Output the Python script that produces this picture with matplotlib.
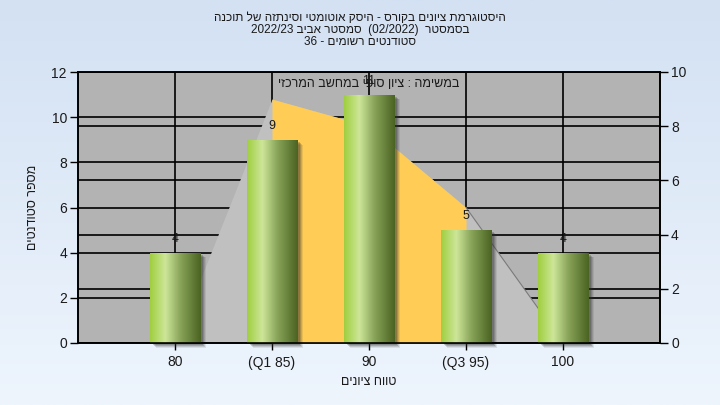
import re
import numpy as np
import matplotlib
matplotlib.use("Agg")
import matplotlib.pyplot as plt
import matplotlib.transforms as mtransforms
from matplotlib.colors import LinearSegmentedColormap

plt.rcParams['font.family'] = ['Liberation Sans', 'DejaVu Sans']

# ---- data ----
categories = ['80', '(Q1 85)', '90', '(Q3 95)', '100']
counts = [4, 9, 11, 5, 4]
curve = [0, 9, 8, 5, 0]          # right-axis distribution outline
q1_index, q3_index = 1, 3
title_lines = ['היסטוגרמת ציונים בקורס - היסק אוטומטי וסינתזה של תוכנה',
               'בסמסטר  (02/2022)  סמסטר אביב 2022/23',
               'סטודנטים רשומים - 36']
subtitle = 'במשימה : ציון סופי במחשב המרכזי'
xlabel = 'טווח ציונים'
ylabel = 'מספר סטודנטים'
left_ticks = [0, 2, 4, 6, 8, 10, 12]
right_ticks = [0, 2, 4, 6, 8, 10]


def vis(s):
    """Simple right-to-left visual ordering for matplotlib (no bidi support)."""
    r = s[::-1].translate(str.maketrans('()', ')('))
    return re.sub(r'[0-9A-Za-z][0-9A-Za-z/.]*', lambda m: m.group(0)[::-1], r)


fig = plt.figure(figsize=(7.2, 4.05), dpi=100)

# background gradient
bgax = fig.add_axes([0, 0, 1, 1], zorder=-10)
grad = np.linspace(0, 1, 256).reshape(-1, 1)
bgcmap = LinearSegmentedColormap.from_list('bg', ['#d3e1f3', '#eef5fd'])
bgax.imshow(grad, aspect='auto', cmap=bgcmap, extent=[0, 1, 0, 1])
bgax.axis('off')

ax = fig.add_axes([78/720, 1-343/405, (660-78)/720, (343-72)/405])
ax.set_facecolor('#b3b3b3')
ax2 = ax.twinx()

x = np.arange(len(categories))
ax.set_xlim(-1, len(categories))
ax.set_ylim(0, 12)
ax2.set_ylim(0, 10)

# gridlines (below polygon)
for v in left_ticks:
    ax.axhline(v, color='black', lw=1.2, zorder=1)
for v in right_ticks:
    ax.plot([-1, len(categories)], [v, v], color='black', lw=1.2, zorder=1,
            transform=ax2.transData)
for xi in x:
    ax.axvline(xi, color='black', lw=1.2, zorder=1)

# distribution polygon (right axis units)
ax.fill_between(x, curve, 0, color='#c0c0c0', lw=0, zorder=2, transform=ax2.transData)
ax.fill_between(x[q1_index:q3_index+1], curve[q1_index:q3_index+1], 0, color='#ffcc55',
                lw=0, zorder=3, transform=ax2.transData)
ax.plot(x[q3_index:], curve[q3_index:], color='#7a7a7a', lw=0.8, zorder=3,
        transform=ax2.transData)

# bars with shadow + cylinder gradient
bw = 0.52
for s in [(6, 0.10), (5, 0.15), (4, 0.2), (3, 0.25)]:
    off = mtransforms.ScaledTranslation(s[0]/100, -s[0]/100 * 0.8, fig.dpi_scale_trans)
    ax.bar(x, counts, width=bw, color='#303030', alpha=s[1], lw=0, zorder=4,
           transform=ax.transData + off, clip_on=False)
bars = ax.bar(x, counts, width=bw, color='none', lw=0, zorder=6)
gcmap = LinearSegmentedColormap.from_list(
    'cyl', [(0, '#9fce3e'), (0.3, '#cde69a'), (0.6, '#88a458'), (1.0, '#4a6322')])
hgrad = np.linspace(0, 1, 256).reshape(1, -1)
for b in bars:
    im = ax.imshow(hgrad, cmap=gcmap, aspect='auto', zorder=5,
                   extent=(b.get_x(), b.get_x() + b.get_width(), 0, b.get_height()))
    im.set_clip_path(b)
ax.set_xlim(-1, len(categories))
ax.set_ylim(0, 12)

for xi, c in zip(x, counts):
    ax.text(xi, c + 0.35, str(c), ha='center', va='bottom', fontsize=9,
            color='#1a1a1a', zorder=7)

# axes / ticks
ax.set_xticks(x)
ax.set_xticklabels(categories)
ax.set_yticks(left_ticks)
ax2.set_yticks(right_ticks)
for a in (ax, ax2):
    a.tick_params(axis='both', length=6, width=1, color='black', labelsize=10,
                  labelcolor='#1a1a1a', pad=2)
    for sp in a.spines.values():
        sp.set_color('black')
        sp.set_linewidth(1.2)
ax.tick_params(axis='x', length=5, pad=4)

ax.set_xlabel(vis(xlabel), fontsize=9, color='#1a1a1a', labelpad=5)
ax.set_ylabel(vis(ylabel), fontsize=9, color='#1a1a1a', rotation=90, labelpad=9)

ax.text(0.5, 0.955, vis(subtitle), transform=ax.transAxes, ha='center', va='center',
        fontsize=9, color='#1a1a1a', zorder=8)

for k, line in enumerate(title_lines):
    fig.text(0.5, 1 - (18 + 12*k)/405, vis(line), ha='center', va='center', fontsize=8.5,
             color='#1a1a1a')

fig.savefig('out.png', dpi=100)
